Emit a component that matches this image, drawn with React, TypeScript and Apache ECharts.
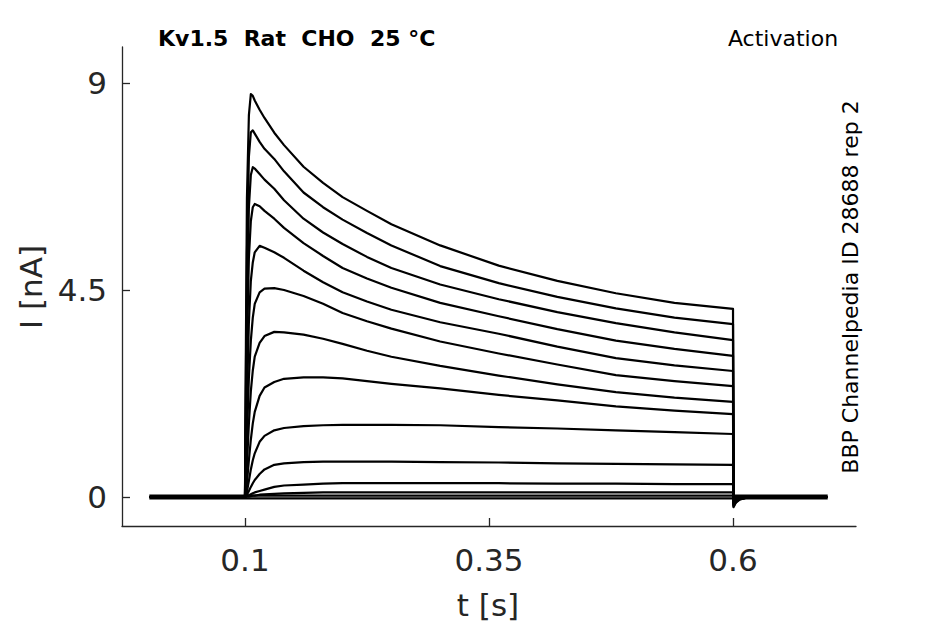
import React, { useEffect, useRef } from "react";
import * as echarts from "echarts";

// time samples (s)
const times = [0.002, 0.1, 0.101, 0.102, 0.104, 0.106, 0.108, 0.11, 0.115, 0.12, 0.13, 0.14, 0.16, 0.18, 0.2, 0.225, 0.25, 0.3, 0.36, 0.42, 0.48, 0.54, 0.6, 0.6005, 0.603, 0.607, 0.615, 0.697];

// current traces (nA), one per voltage step
const trace1 = [0, 0, 3.5, 6.5, 8.3, 8.76, 8.72, 8.62, 8.42, 8.24, 7.92, 7.65, 7.18, 6.83, 6.52, 6.22, 5.93, 5.47, 5.03, 4.70, 4.43, 4.22, 4.09, -0.22, -0.12, -0.05, -0.01, 0];
const trace2 = [0, 0, 2.8, 5.3, 7.4, 7.93, 7.97, 7.9, 7.72, 7.57, 7.35, 7.08, 6.62, 6.3, 6.03, 5.74, 5.47, 5.02, 4.65, 4.35, 4.1, 3.9, 3.76, -0.2, -0.11, -0.05, -0.01, 0];
const trace3 = [0, 0, 2.2, 4.2, 6.3, 7.0, 7.17, 7.14, 7.02, 6.9, 6.70, 6.45, 6.05, 5.75, 5.5, 5.22, 4.98, 4.62, 4.3, 4.02, 3.78, 3.58, 3.41, -0.18, -0.1, -0.04, -0.01, 0];
const trace4 = [0, 0, 1.6, 3.2, 5.2, 6.0, 6.3, 6.37, 6.32, 6.22, 6.05, 5.85, 5.52, 5.24, 4.98, 4.75, 4.55, 4.22, 3.93, 3.65, 3.4, 3.22, 3.07, -0.16, -0.09, -0.04, -0.01, 0];
const trace5 = [0, 0, 1.0, 2.1, 3.8, 4.7, 5.1, 5.32, 5.46, 5.42, 5.32, 5.2, 4.92, 4.67, 4.45, 4.25, 4.07, 3.8, 3.55, 3.27, 3.02, 2.86, 2.74, -0.14, -0.08, -0.03, -0.01, 0];
const trace6 = [0, 0, 0.6, 1.3, 2.6, 3.4, 3.9, 4.2, 4.45, 4.53, 4.54, 4.5, 4.37, 4.2, 4.0, 3.82, 3.66, 3.38, 3.12, 2.88, 2.65, 2.52, 2.41, -0.12, -0.07, -0.03, -0.01, 0];
const trace7 = [0, 0, 0.3, 0.7, 1.6, 2.3, 2.75, 3.05, 3.35, 3.5, 3.59, 3.58, 3.53, 3.44, 3.33, 3.18, 3.05, 2.85, 2.64, 2.45, 2.28, 2.16, 2.07, -0.1, -0.06, -0.02, 0, 0];
const trace8 = [0, 0, 0.12, 0.3, 0.8, 1.25, 1.6, 1.85, 2.2, 2.38, 2.5, 2.57, 2.6, 2.6, 2.58, 2.52, 2.46, 2.36, 2.22, 2.1, 1.97, 1.88, 1.80, -0.08, -0.04, -0.02, 0, 0];
const trace9 = [0, 0, 0.05, 0.12, 0.35, 0.6, 0.8, 0.95, 1.2, 1.33, 1.45, 1.5, 1.54, 1.56, 1.57, 1.57, 1.57, 1.56, 1.52, 1.49, 1.45, 1.41, 1.37, -0.06, -0.03, -0.01, 0, 0];
const trace10 = [0, 0, 0.02, 0.05, 0.13, 0.22, 0.3, 0.37, 0.5, 0.6, 0.7, 0.73, 0.76, 0.77, 0.77, 0.77, 0.77, 0.76, 0.75, 0.73, 0.72, 0.71, 0.70, -0.04, -0.02, -0.01, 0, 0];
const trace11 = [0, 0, 0.01, 0.02, 0.04, 0.06, 0.08, 0.1, 0.13, 0.16, 0.22, 0.25, 0.27, 0.29, 0.3, 0.3, 0.3, 0.3, 0.3, 0.29, 0.29, 0.28, 0.28, -0.02, -0.01, 0, 0, 0];
const trace12 = [0, 0, 0, 0.01, 0.01, 0.02, 0.03, 0.03, 0.05, 0.06, 0.07, 0.08, 0.09, 0.1, 0.1, 0.1, 0.1, 0.1, 0.1, 0.1, 0.1, 0.1, 0.1, -0.01, 0, 0, 0, 0];
const trace13 = [0.03, 0.03, 0.03, 0.03, 0.03, 0.03, 0.03, 0.03, 0.03, 0.03, 0.03, 0.03, 0.03, 0.03, 0.03, 0.03, 0.03, 0.03, 0.03, 0.03, 0.03, 0.03, 0.03, 0.03, 0.03, 0.03, 0.03, 0.03];
const trace14 = [-0.03, -0.03, -0.03, -0.03, -0.03, -0.03, -0.03, -0.03, -0.03, -0.03, -0.03, -0.03, -0.03, -0.03, -0.03, -0.03, -0.03, -0.03, -0.03, -0.03, -0.03, -0.03, -0.03, -0.03, -0.03, -0.03, -0.03, -0.03];

const traces = [trace1, trace2, trace3, trace4, trace5, trace6, trace7, trace8, trace9, trace10, trace11, trace12, trace13, trace14];

const xTicks = [0.1, 0.35, 0.6];
const yTicks = [0, 4.5, 9];

const FONT = "DejaVu Sans";
const AXIS_COLOR = "#262626";

export default function App() {
  const ref = useRef<HTMLDivElement>(null);

  useEffect(() => {
    document.body.style.margin = "0";
    if (!ref.current) return;
    const chart = echarts.init(ref.current, null, { renderer: "svg" });

    const series = traces.map((tr, i) => ({
      type: "line",
      name: "sweep " + (i + 1),
      data: times.map((t, j) => [t, tr[j]]),
      showSymbol: false,
      symbol: "none",
      lineStyle: { color: "#000000", width: 2.2, join: "round" },
      silent: true,
    }));

    chart.setOption({
      animation: false,
      backgroundColor: "#ffffff",
      grid: {
        left: 122,
        top: 47,
        width: 734,
        height: 479,
        containLabel: false,
        outerBoundsMode: "none",
      },
      xAxis: {
        type: "value",
        min: -0.026,
        max: 0.726,
        splitLine: { show: false },
        axisLine: { show: true, onZero: false, lineStyle: { color: AXIS_COLOR, width: 1.3 } },
        axisTick: { show: true, inside: true, length: 8, customValues: xTicks, lineStyle: { color: AXIS_COLOR, width: 1.3 } },
        axisLabel: {
          customValues: xTicks,
          formatter: (v: number) => String(v),
          fontSize: 31,
          fontFamily: FONT,
          color: AXIS_COLOR,
          margin: 18,
        },
      },
      yAxis: {
        type: "value",
        min: -0.63,
        max: 9.783,
        splitLine: { show: false },
        axisLine: { show: true, onZero: false, lineStyle: { color: AXIS_COLOR, width: 1.3 } },
        axisTick: { show: true, inside: true, length: 8, customValues: yTicks, lineStyle: { color: AXIS_COLOR, width: 1.3 } },
        axisLabel: {
          customValues: yTicks,
          formatter: (v: number) => String(v),
          fontSize: 31,
          fontFamily: FONT,
          color: AXIS_COLOR,
          margin: 15,
        },
      },
      series,
      graphic: [
        {
          type: "text",
          left: 158,
          top: 27,
          style: {
            text: "Kv1.5\u00a0\u00a0Rat\u00a0\u00a0CHO\u00a0\u00a025\u00a0°C",
            fontFamily: FONT,
            fontWeight: "bold",
            fontSize: 22,
            fill: "#000000",
          },
        },
        {
          type: "text",
          x: 783,
          y: 38,
          style: {
            text: "Activation",
            fontFamily: FONT,
            fontSize: 22,
            fill: "#000000",
            align: "center",
            verticalAlign: "middle",
          },
        },
        {
          type: "text",
          x: 850,
          y: 287,
          rotation: Math.PI / 2,
          style: {
            text: "BBP Channelpedia ID 28688 rep 2",
            fontFamily: FONT,
            fontSize: 22,
            fill: "#000000",
            align: "center",
            verticalAlign: "middle",
          },
        },
        {
          type: "text",
          x: 31,
          y: 287,
          rotation: Math.PI / 2,
          style: {
            text: "I [nA]",
            fontFamily: FONT,
            fontSize: 31,
            fill: AXIS_COLOR,
            align: "center",
            verticalAlign: "middle",
          },
        },
        {
          type: "text",
          x: 488,
          y: 605,
          style: {
            text: "t [s]",
            fontFamily: FONT,
            fontSize: 31,
            fill: AXIS_COLOR,
            align: "center",
            verticalAlign: "middle",
          },
        },
      ],
    });

    return () => {
      chart.dispose();
    };
  }, []);

  return <div ref={ref} style={{ width: 945, height: 624 }} />;
}
